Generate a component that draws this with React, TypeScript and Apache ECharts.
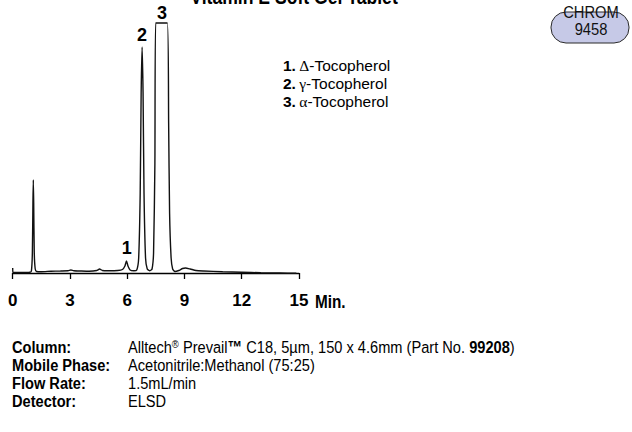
import React, { useEffect, useRef } from "react";
import * as echarts from "echarts";

// Retention time (min) and detector response (arbitrary units, baseline ~0)
const traceTime = [
  0, 0.01, 0.5, 0.9, 0.98, 1.03, 1.06, 1.08, 1.1, 1.13, 1.18, 1.25, 1.5, 2.0, 2.5, 2.9, 3.05, 3.2, 3.6, 4.0,
  4.4, 4.55, 4.7, 5.0, 5.5, 5.75, 5.88, 5.96, 6.04, 6.15, 6.35, 6.5, 6.6, 6.68, 6.73, 6.78, 6.83, 6.88, 6.96,
  7.05, 7.19, 7.3, 7.38, 7.45, 7.49, 8.1, 8.17, 8.22, 8.3, 8.38, 8.5, 8.7, 8.9, 9.05, 9.3, 9.6, 10, 11, 12, 13,
  14, 14.86,
];
const traceSignal = [
  5, 0.5, 0.5, 0.8, 2, 20, 70, 93, 70, 20, 4, 1.5, 1.3, 1.8, 2, 2.2, 3, 2.3, 2, 1.8,
  2.5, 4, 2.5, 2.3, 2.5, 3.5, 7, 12, 7, 3, 2.2, 3, 15, 80, 180, 226, 180, 80, 15,
  4, 2.3, 4, 20, 110, 250, 250, 150, 60, 15, 4, 1.5, 2.5, 4.5, 5, 4, 2.5, 2, 1.2, 0.8, 0.3,
  0, -0.3,
];

const peakNames = ["1", "2", "3"];
const peakTimes = [5.98, 6.77, 7.82];
const peakTops = [12, 226, 250];
const peakLabelOffsets = [-13, -12, -10];

const compoundNums = ["1.", "2.", "3."];
const compoundGreek = ["\u0394", "\u03b3", "\u03b1"];
const compoundNames = ["-Tocopherol", "-Tocopherol", "-Tocopherol"];

const xTicks = [0, 3, 6, 9, 12, 15];

const condLabels = ["Column:", "Mobile Phase:", "Flow Rate:", "Detector:"];
const condValues = [
  "{r|Alltech}{sup|\u00ae}{r| Prevail}{b|\u2122}{r| C18, 5\u00b5m, 150 x 4.6mm (Part No. }{b|99208}{r|)}",
  "{r|Acetonitrile:Methanol (75:25)}",
  "{r|1.5mL/min}",
  "{r|ELSD}",
];

const SANS = '"Liberation Sans", Arial, Helvetica, sans-serif';
const SERIF = '"Liberation Serif", "DejaVu Serif", serif';
const NARROW_SCALE = 0.86;

export default function App() {
  const ref = useRef<HTMLDivElement>(null);
  useEffect(() => {
    if (!ref.current) return;
    const chart = echarts.init(ref.current, null, { renderer: "svg" });
    const data = traceTime.map((t, i) => [t, traceSignal[i]]);
    const rowY = [347, 365, 383, 401];

    const graphics: any[] = [
      {
        type: "text",
        x: 294,
        y: -4,
        scaleX: 0.8,
        style: {
          text: "Vitamin E Soft Gel Tablet",
          font: `bold 22px ${SANS}`,
          fill: "#000",
          align: "center",
          verticalAlign: "middle",
        },
      },
      {
        type: "rect",
        shape: { x: 551, y: 12, width: 78, height: 31, r: 15 },
        style: { fill: "#c6c9e7", stroke: "#2a2a2a", lineWidth: 1 },
      },
      {
        type: "text",
        x: 591,
        y: 12,
        scaleX: 0.92,
        style: { text: "CHROM", font: `16px ${SANS}`, fill: "#111", align: "center", verticalAlign: "middle" },
      },
      {
        type: "text",
        x: 591,
        y: 29,
        scaleX: 0.92,
        style: { text: "9458", font: `16px ${SANS}`, fill: "#111", align: "center", verticalAlign: "middle" },
      },
      {
        type: "text",
        x: 315,
        y: 302,
        scaleX: 0.85,
        style: { text: "Min.", font: `bold 18px ${SANS}`, fill: "#000", align: "left", verticalAlign: "middle" },
      },
    ];

    compoundNums.forEach((n, i) => {
      graphics.push({
        type: "text",
        x: 283,
        y: 65 + i * 18,
        style: {
          text: `{n|${n}} {g|${compoundGreek[i]}}{t|${compoundNames[i]}}`,
          verticalAlign: "middle",
          rich: {
            n: { font: `bold 15.5px ${SANS}`, fill: "#000" },
            g: { font: `15.5px ${SERIF}`, fill: "#000" },
            t: { font: `15.5px ${SANS}`, fill: "#000" },
          },
        },
      });
    });

    condLabels.forEach((l, i) => {
      graphics.push({
        type: "text",
        x: 12,
        y: rowY[i],
        scaleX: NARROW_SCALE,
        style: { text: l, font: `bold 17px ${SANS}`, fill: "#000", verticalAlign: "middle" },
      });
      graphics.push({
        type: "text",
        x: 128,
        y: rowY[i],
        scaleX: NARROW_SCALE,
        style: {
          text: condValues[i],
          verticalAlign: "middle",
          rich: {
            r: { font: `17px ${SANS}`, fill: "#000" },
            b: { font: `bold 17px ${SANS}`, fill: "#000" },
            sup: { font: `11px ${SANS}`, fill: "#000", verticalAlign: "top" },
          },
        },
      });
    });

    chart.setOption({
      animation: false,
      grid: { left: 12.7, right: 333, top: 23, bottom: 148, containLabel: false },
      xAxis: {
        type: "value",
        min: 0,
        max: 15,
        interval: 3,
        axisLine: { show: true, lineStyle: { color: "#000", width: 1.3 } },
        axisTick: { show: true, length: 6, lineStyle: { color: "#000", width: 1.3 } },
        splitLine: { show: false },
        axisLabel: {
          show: true,
          margin: 8,
          color: "#000",
          fontFamily: SANS,
          fontWeight: "bold",
          fontSize: 17,
          customValues: xTicks,
        },
      },
      yAxis: {
        type: "value",
        min: -11,
        max: 250,
        show: false,
        splitLine: { show: false },
      },
      series: [
        {
          type: "line",
          data,
          showSymbol: false,
          symbol: "none",
          clip: false,
          smooth: 0.2,
          lineStyle: { color: "#111", width: 1.4 },
          markPoint: {
            symbol: "circle",
            symbolSize: 0,
            data: peakNames.map((n, i) => ({
              name: n,
              coord: [peakTimes[i], peakTops[i]],
              label: {
                show: true,
                formatter: n,
                offset: [0, peakLabelOffsets[i]],
                color: "#000",
                fontFamily: SANS,
                fontWeight: "bold",
                fontSize: 18,
              },
            })),
          },
        },
      ],
      graphic: graphics,
    });
    return () => chart.dispose();
  }, []);
  return <div ref={ref} style={{ position: "absolute", left: 0, top: 0, width: 632, height: 432, background: "#fff" }} />;
}
